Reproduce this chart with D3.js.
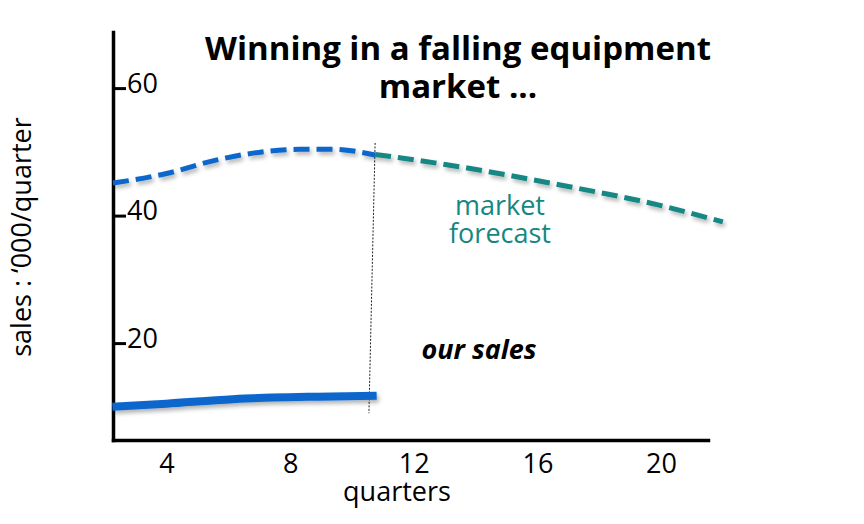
<!DOCTYPE html>
<html>
<head>
<meta charset="utf-8">
<script src="https://cdn.jsdelivr.net/npm/d3@7"></script>
<style>
  body { margin: 0; background: #fff; }
  text { font-family: "Open Sans", sans-serif; }
</style>
</head>
<body>
<div id="chart"></div>
<script>
// values: [quarter, sales '000/quarter]
const quarterTicks = [4, 8, 12, 16, 20];
const salesTicks = [20, 40, 60];
const marketHistory = [[2.27, 45.1], [4, 46.6], [5.6, 48.7], [6.8, 49.8], [8.3, 50.4], [9.4, 50.4], [10.75, 49.5]];
const marketForecast = [[10.75, 49.6], [13.5, 47.65], [16.74, 44.8], [19.97, 41.6], [22.0, 39.0]];
const ourSales = [[2.25, 10.0], [4, 10.5], [6.15, 11.2], [8.9, 11.6], [10.8, 11.75]];
const divider = [[10.75, 51.4], [10.55, 9.0]];

let w = 864;
let h = 524;

let svg = d3.select("#chart")
  .append("svg")
    .attr("width", w)
    .attr("height", h);

// soft shadow under the lines
svg.append("defs").append("filter")
    .attr("id", "shadow")
    .attr("filterUnits", "userSpaceOnUse")
    .attr("x", 0).attr("y", 0).attr("width", w).attr("height", h)
  .append("feDropShadow")
    .attr("dx", 2).attr("dy", 3)
    .attr("stdDeviation", 2)
    .attr("flood-color", "#000")
    .attr("flood-opacity", 0.3);

let x = d3.scaleLinear().domain([2.27, 21.52]).range([113, 708]);
let y = d3.scaleLinear().domain([4.8, 68.8]).range([440, 32]);

let line = d3.line()
  .x(d => x(d[0]))
  .y(d => y(d[1]))
  .curve(d3.curveMonotoneX);

// axes
let yAxis = svg.append("g")
  .attr("transform", "translate(" + x.range()[0] + ",0)")
  .call(d3.axisRight(y).tickValues(salesTicks).tickSize(13).tickPadding(1).tickSizeOuter(0));

let xAxis = svg.append("g")
  .attr("transform", "translate(0," + y.range()[0] + ")")
  .call(d3.axisBottom(x).tickValues(quarterTicks).tickSize(0).tickPadding(14));

yAxis.select(".domain").attr("stroke", "#000").attr("stroke-width", 3.5).attr("stroke-linecap", "square");
xAxis.select(".domain").attr("stroke", "#000").attr("stroke-width", 3.5).attr("stroke-linecap", "square");
yAxis.selectAll(".tick line").attr("stroke", "#000").attr("stroke-width", 3);
yAxis.selectAll(".tick text").attr("dy", "0.15em");
svg.selectAll(".tick text")
  .attr("fill", "#000")
  .style("font-family", "'Open Sans', sans-serif")
  .style("font-size", "27px");

// divider between history and forecast
svg.append("line")
  .attr("x1", x(divider[0][0])).attr("y1", y(divider[0][1]))
  .attr("x2", x(divider[1][0])).attr("y2", y(divider[1][1]))
  .attr("stroke", "#222")
  .attr("stroke-width", 1)
  .attr("stroke-dasharray", "2,1.5");

svg.append("path")
  .datum(marketHistory)
  .attr("d", line)
  .attr("fill", "none")
  .attr("stroke", "#0a66cc")
  .attr("stroke-width", 5)
  .attr("stroke-dasharray", "16,7")
  .attr("filter", "url(#shadow)");

svg.append("path")
  .datum(marketForecast)
  .attr("d", line)
  .attr("fill", "none")
  .attr("stroke", "#148782")
  .attr("stroke-width", 5)
  .attr("stroke-dasharray", "16,7")
  .attr("filter", "url(#shadow)");

svg.append("path")
  .datum(ourSales)
  .attr("d", line)
  .attr("fill", "none")
  .attr("stroke", "#0a66cc")
  .attr("stroke-width", 8)
  .attr("filter", "url(#shadow)");

// labels
let title = svg.append("text")
  .attr("text-anchor", "middle")
  .style("font-size", "33px")
  .style("font-weight", "bold");
title.append("tspan").attr("x", 458).attr("y", 60).text("Winning in a falling equipment");
title.append("tspan").attr("x", 458).attr("y", 98).text("market ...");

let fc = svg.append("text")
  .attr("text-anchor", "middle")
  .attr("fill", "#148782")
  .style("font-size", "27px");
fc.append("tspan").attr("x", 500).attr("y", 215).text("market");
fc.append("tspan").attr("x", 500).attr("y", 243).text("forecast");

svg.append("text")
  .attr("x", 479).attr("y", 359)
  .attr("text-anchor", "middle")
  .style("font-size", "27px")
  .style("font-weight", "bold")
  .style("font-style", "italic")
  .text("our sales");

svg.append("text")
  .attr("x", 397).attr("y", 501)
  .attr("text-anchor", "middle")
  .style("font-size", "27px")
  .text("quarters");

svg.append("text")
  .attr("transform", "translate(31,237) rotate(-90)")
  .attr("text-anchor", "middle")
  .style("font-size", "27px")
  .text("sales : ‘000/quarter");
</script>
</body>
</html>
